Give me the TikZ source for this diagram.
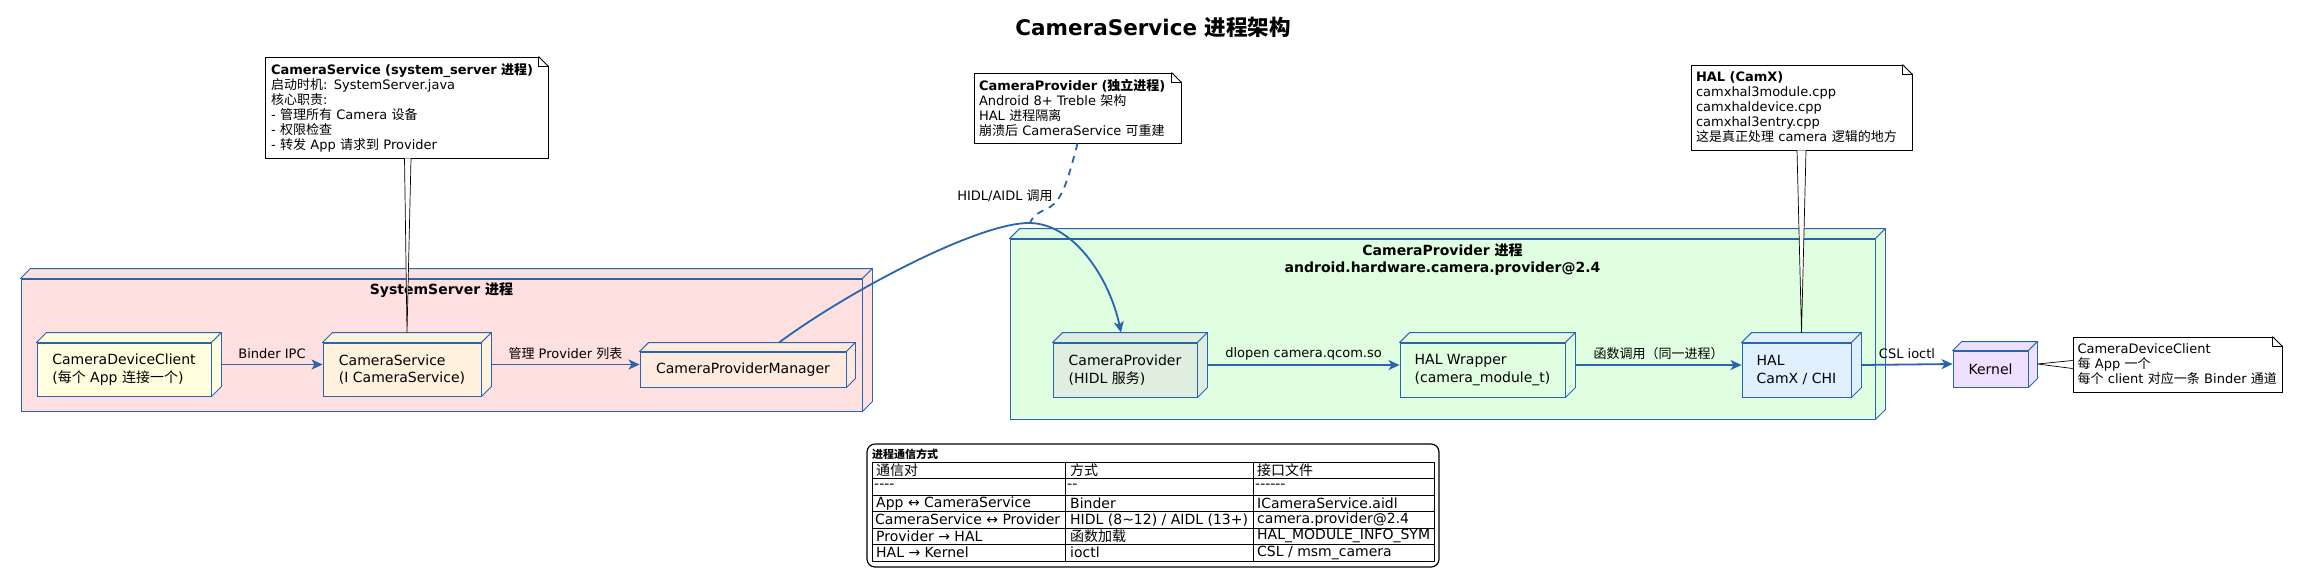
\documentclass[tikz,border=0pt]{standalone}
\usepackage{fontspec}
\setmainfont{DejaVu Sans}
\newfontfamily\cjk{Noto Sans CJK SC}
\usetikzlibrary{arrows.meta,calc}
\newcommand\zh[1]{{\cjk #1}}
\definecolor{ln}{HTML}{2864AF}
\definecolor{ssfill}{HTML}{FFE0E0}
\definecolor{cppfill}{HTML}{E0FFE0}
\definecolor{cdcfill}{HTML}{FFFFE0}
\definecolor{csfill}{HTML}{FFF3E0}
\definecolor{cpmfill}{HTML}{FFEAE0}
\definecolor{cpfill}{HTML}{E0EEE0}
\definecolor{halwfill}{HTML}{E0FFE0}
\definecolor{halfill}{HTML}{E0F0FF}
\definecolor{kfill}{HTML}{F0E0FF}
\newcommand\threed[3]{%
  \path[draw=ln, line width=0.9pt, fill=#3, line join=round]
    (#1.north west) -- ++(#2,-#2) -- ($(#1.north east)+(#2,-#2)$) -- (#1.north east) -- cycle;
  \path[draw=ln, line width=0.9pt, fill=#3, line join=round]
    (#1.north east) -- ++(#2,-#2) -- ($(#1.south east)+(#2,-#2)$) -- (#1.south east) -- cycle;
}
\newcommand\notefold[1]{%
  \fill[white] ([xshift=-10pt,yshift=1pt]#1.north east) -- ([xshift=1pt,yshift=1pt]#1.north east) -- ([xshift=1pt,yshift=-10pt]#1.north east) -- cycle;
  \draw[line width=0.9pt] ([xshift=-10pt]#1.north east) -- ([yshift=-10pt]#1.north east);
  \draw[line width=0.9pt] ([xshift=-10pt]#1.north east) |- ([yshift=-10pt]#1.north east);
}
\tikzset{
  box/.style={draw=ln, line width=0.9pt, align=left, inner sep=0pt, font=\fontsize{14}{17.5}\selectfont},
  pkg/.style={draw=ln, line width=0.9pt, inner sep=0pt},
  pkgtitle/.style={font=\bfseries\fontsize{14}{17}\selectfont, align=center, inner sep=0pt},
  arr/.style={draw=ln, line width=1.8pt, -{Stealth[length=11pt,width=10pt,inset=3pt]}},
  lbl/.style={font=\fontsize{13}{15}\selectfont, inner sep=0pt},
  notebox/.style={draw=black, fill=white, line width=0.9pt, align=left, inner ysep=0pt, font=\fontsize{13}{15}\selectfont},
  wedge/.style={draw=black, fill=white, line width=0.7pt, line join=round},
  cell/.style={font=\fontsize{14}{16}\selectfont, anchor=west, inner sep=0pt},
  tline/.style={draw=black, line width=0.9pt},
}
\begin{document}
\begin{tikzpicture}[x=1pt,y=-1pt]
\useasboundingbox (0,0) rectangle (2306,579);

% title
\node[font=\bfseries\fontsize{21.5}{26}\selectfont, inner sep=0pt] (title) at (1153,27) {CameraService \zh{进程架构}};

% packages
\node[pkg, fill=ssfill, minimum width=841pt, minimum height=132pt] (ss) at (441.5,345) {};
\threed{ss}{10}{ssfill}
\node[pkgtitle] (sst) at ($(ss.north)+(0,12)$) {SystemServer \zh{进程}};

\node[pkg, fill=cppfill, minimum width=865pt, minimum height=180pt] (cpp) at (1442.5,329) {};
\threed{cpp}{10}{cppfill}
\node[pkgtitle] (cppt) at ($(cpp.north)+(0,20.5)$) {CameraProvider \zh{进程}\\android.hardware.camera.provider@2.4};

% nodes
\node[box, fill=cdcfill, minimum width=174pt, minimum height=53pt] (cdc) at (124,369.5) {CameraDeviceClient\\(\zh{每个} App \zh{连接一个})};
\threed{cdc}{10}{cdcfill}
\node[box, fill=csfill, minimum width=158pt, minimum height=53pt] (cs) at (402,369.5) {CameraService\\(I CameraService)};
\threed{cs}{10}{csfill}
\node[box, fill=cpmfill, minimum width=206pt, minimum height=35pt] (cpm) at (743,369.5) {CameraProviderManager};
\threed{cpm}{9}{cpmfill}
\node[box, fill=cpfill, minimum width=144pt, minimum height=54pt] (cp) at (1125,370) {CameraProvider\\(HIDL \zh{服务})};
\threed{cp}{10}{cpfill}
\node[box, fill=halwfill, minimum width=165pt, minimum height=54pt] (halw) at (1482.5,370) {HAL Wrapper\\(camera\_module\_t)};
\threed{halw}{10}{halwfill}
\node[box, fill=halfill, minimum width=109pt, minimum height=54pt] (hal) at (1796.5,370) {HAL\\CamX / CHI};
\threed{hal}{10}{halfill}
\node[box, fill=kfill, minimum width=75pt, minimum height=36pt] (kernel) at (1990.5,369) {Kernel};
\threed{kernel}{9}{kfill}

% notes
\node[notebox, minimum width=283pt, minimum height=101pt, text width=271pt, inner xsep=6pt] (n1) at (406.5,107.5)
 {\textbf{CameraService (system\_server \zh{进程})}\\\zh{启动时机}: SystemServer.java\\\zh{核心职责}:\\- \zh{管理所有} Camera \zh{设备}\\- \zh{权限检查}\\- \zh{转发} App \zh{请求到} Provider};
\notefold{n1}
\node[notebox, minimum width=207pt, minimum height=70pt, text width=197pt, inner xsep=5pt] (n2) at (1077.5,108)
 {\textbf{CameraProvider (\zh{独立进程})}\\Android 8+ Treble \zh{架构}\\HAL \zh{进程隔离}\\\zh{崩溃后} CameraService \zh{可重建}};
\notefold{n2}
\node[notebox, minimum width=221pt, minimum height=85pt, text width=211pt, inner xsep=5pt] (n3) at (1801.5,107.5)
 {\textbf{HAL (CamX)}\\camxhal3module.cpp\\camxhaldevice.cpp\\camxhal3entry.cpp\\\zh{这是真正处理} camera \zh{逻辑的地方}};
\notefold{n3}
\node[notebox, minimum width=209pt, minimum height=55pt, text width=200pt, inner xsep=4.5pt] (n4) at (2177.5,364.5)
 {CameraDeviceClient\\\zh{每} App \zh{一个}\\\zh{每个} client \zh{对应一条} Binder \zh{通道}};
\notefold{n4}

% note connectors
\draw[wedge] ([xshift=-2pt]n1.south) -- ([xshift=5pt,yshift=10pt]cs.north) -- ([xshift=4.5pt]n1.south);
\draw[wedge] ([xshift=-4.5pt]n3.south) -- ([xshift=5pt,yshift=10pt]hal.north) -- ([xshift=4.5pt]n3.south);
\draw[wedge] ([yshift=4pt]n4.west) -- ([xshift=9pt,yshift=5pt]kernel.east) -- ([yshift=-4pt]n4.west);

% connectors
\draw[arr] ([xshift=10pt,yshift=5pt]cdc.east) -- node[lbl, yshift=11pt] (l1) {Binder IPC} ([yshift=5pt]cs.west);
\draw[arr] ([xshift=10pt,yshift=5pt]cs.east) -- node[lbl, yshift=11pt] (l2) {\zh{管理} Provider \zh{列表}} ([yshift=5pt]cpm.west);
\draw[arr] ([xshift=10pt,yshift=5pt]cp.east) -- node[lbl, yshift=11pt] (l3) {dlopen camera.qcom.so} ([yshift=5pt]halw.west);
\draw[arr] ([xshift=10pt,yshift=5pt]halw.east) -- node[lbl, yshift=11pt] (l4) {\zh{函数调用（同一进程）}} ([yshift=5pt]hal.west);
\draw[arr] ([xshift=10pt,yshift=5pt]hal.east) -- node[lbl, yshift=11pt] (l5) {CSL ioctl} ([yshift=5pt]kernel.west);

\coordinate (peak) at (1030,223);
\draw[arr] ([xshift=36pt,yshift=9pt]cpm.north) .. controls (850,290) and (980,222) .. (peak)
  .. controls (1075,224) and (1110,280) .. ([xshift=-4pt,yshift=10pt]cp.north);
\draw[ln, line width=1.8pt, dash pattern=on 7pt off 6pt] (n2.south) .. controls (1068,180) and (1062,200) .. (1050,207)
  .. controls (1040,212) and (1033,215) .. (peak);
\node[lbl] (l6) at (1005,196) {HIDL/AIDL \zh{调用}};

% legend table
\node[draw=black, line width=1.2pt, rounded corners=8pt, minimum width=572pt, minimum height=123pt, inner sep=0pt] (legend) at (1153,505.5) {};
\node[font=\bfseries\fontsize{11}{13}\selectfont, anchor=west, inner sep=0pt] (lt) at (872,454) {\zh{进程通信方式}};
\draw[tline] (872,462) rectangle (1434,561);
\foreach \yy in {478.5,495,511.5,528,544.5} \draw[tline] (872,\yy) -- (1434,\yy);
\draw[tline] (1065,462) -- (1065,561);
\draw[tline] (1253,462) -- (1253,561);
\node[cell] (c11) at (876,470.25) {\zh{通信对}};
\node[cell] (c12) at (1070,470.25) {\zh{方式}};
\node[cell] (c13) at (1257,470.25) {\zh{接口文件}};
\node[cell] (c21) at (874,486.75) {-{}-{}-{}-};
\node[cell] (c22) at (1067,486.75) {-{}-};
\node[cell] (c23) at (1255,486.75) {-{}-{}-{}-{}-{}-};
\node[cell] (c31) at (876,503.25) {App ↔ CameraService};
\node[cell] (c32) at (1070,503.25) {Binder};
\node[cell] (c33) at (1257,503.25) {ICameraService.aidl};
\node[cell] (c41) at (875,519.75) {CameraService ↔ Provider};
\node[cell] (c42) at (1070,519.75) {HIDL (8\textasciitilde12) / AIDL (13+)};
\node[cell] (c43) at (1257,519.75) {camera.provider@2.4};
\node[cell] (c51) at (876,536.25) {Provider → HAL};
\node[cell] (c52) at (1070,536.25) {\zh{函数加载}};
\node[cell] (c53) at (1257,536.25) {HAL\_MODULE\_INFO\_SYM};
\node[cell] (c61) at (876,552.75) {HAL → Kernel};
\node[cell] (c62) at (1070,552.75) {ioctl};
\node[cell] (c63) at (1257,552.75) {CSL / msm\_camera};
\end{tikzpicture}
\end{document}
